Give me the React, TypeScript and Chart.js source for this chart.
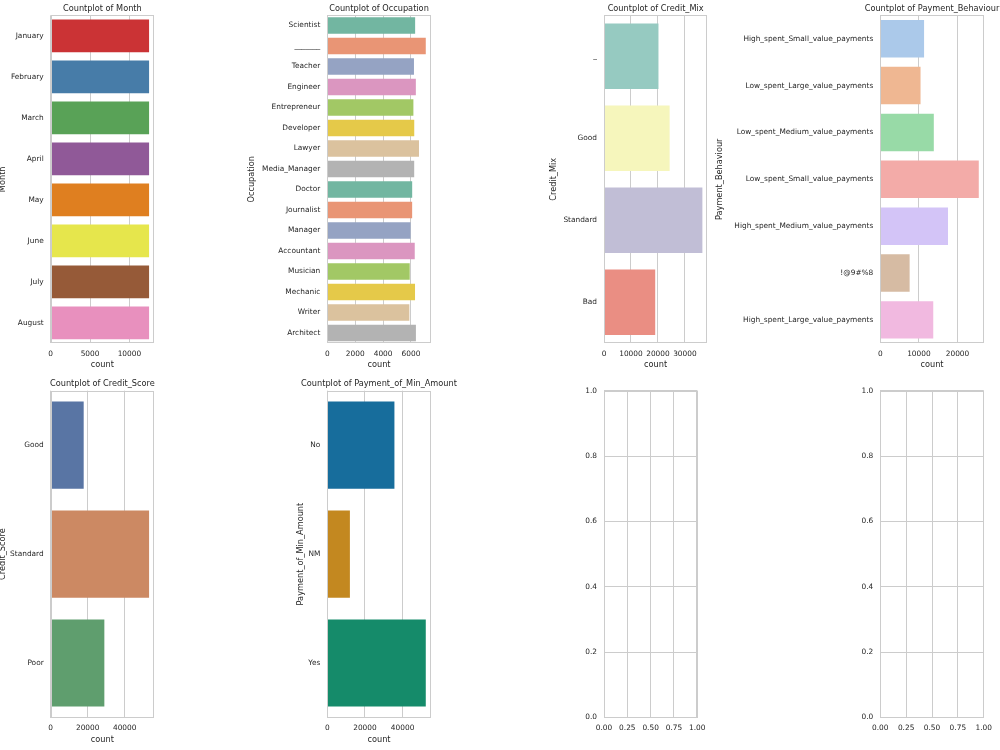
import React, { useEffect, useRef } from "react";
import { Chart, registerables } from "chart.js";

Chart.register(...registerables);

// ---------------- Data ----------------
const monthLabels = ["January", "February", "March", "April", "May", "June", "July", "August"];
const monthCounts = [12500, 12500, 12500, 12500, 12500, 12500, 12500, 12500];

const occupationLabels = [
  "Scientist", "_______", "Teacher", "Engineer", "Entrepreneur", "Developer", "Lawyer",
  "Media_Manager", "Doctor", "Journalist", "Manager", "Accountant", "Musician", "Mechanic",
  "Writer", "Architect",
];
const occupationCounts = [
  6299, 7062, 6215, 6350, 6174, 6235, 6575, 6232, 6087, 6085, 5973, 6271, 5911, 6291, 5885, 6355,
];

const creditMixLabels = ["_", "Good", "Standard", "Bad"];
const creditMixCounts = [20195, 24337, 36479, 18989];

const paymentBehaviourLabels = [
  "High_spent_Small_value_payments",
  "Low_spent_Large_value_payments",
  "Low_spent_Medium_value_payments",
  "Low_spent_Small_value_payments",
  "High_spent_Medium_value_payments",
  "!@9#%8",
  "High_spent_Large_value_payments",
];
const paymentBehaviourCounts = [11340, 10425, 13861, 25513, 17540, 7600, 13721];

const creditScoreLabels = ["Good", "Standard", "Poor"];
const creditScoreCounts = [17828, 53174, 28998];

const minAmountLabels = ["No", "NM", "Yes"];
const minAmountCounts = [35667, 12007, 52326];

const monthTicks = [0, 5000, 10000];
const occupationTicks = [0, 2000, 4000, 6000];
const creditMixTicks = [0, 10000, 20000, 30000];
const paymentBehaviourTicks = [0, 10000, 20000];
const creditScoreTicks = [0, 20000, 40000];
const minAmountTicks = [0, 20000, 40000];
const emptyXTicks = [0, 0.25, 0.5, 0.75, 1.0];
const emptyYTicks = [0, 0.2, 0.4, 0.6, 0.8, 1.0];

// ---------------- Styles ----------------
const FONT = "'DejaVu Sans', sans-serif";
const TEXT = "#262626";
const GRID = "#cccccc";
const TICK_SIZE = 7.4;
const LABEL_SIZE = 8.2;
const LH = LABEL_SIZE * 1.2;

const set1 = ["#e41a1c", "#377eb8", "#4daf4a", "#984ea3", "#ff7f00", "#ffff33", "#a65628", "#f781bf"];
const set2 = ["#66c2a5", "#fc8d62", "#8da0cb", "#e78ac3", "#a6d854", "#ffd92f", "#e5c494", "#b3b3b3"];
const set3 = ["#8dd3c7", "#ffffb3", "#bebada", "#fb8072"];
const pastel = ["#a1c9f4", "#ffb482", "#8de5a1", "#ff9f9b", "#d0bbff", "#debb9b", "#fab0e4"];
const deep = ["#4c72b0", "#dd8452", "#55a868"];
const colorblind = ["#0173b2", "#de8f05", "#029e73"];

function desaturate(hex: string, prop: number): string {
  const r = parseInt(hex.slice(1, 3), 16) / 255;
  const g = parseInt(hex.slice(3, 5), 16) / 255;
  const b = parseInt(hex.slice(5, 7), 16) / 255;
  const max = Math.max(r, g, b);
  const min = Math.min(r, g, b);
  const l = (max + min) / 2;
  let h = 0;
  let s = 0;
  if (max !== min) {
    const d = max - min;
    s = l <= 0.5 ? d / (max + min) : d / (2 - max - min);
    if (max === r) h = ((g - b) / d + (g < b ? 6 : 0)) / 6;
    else if (max === g) h = ((b - r) / d + 2) / 6;
    else h = ((r - g) / d + 4) / 6;
  }
  s *= prop;
  const hue2rgb = (p: number, q: number, t: number) => {
    if (t < 0) t += 1;
    if (t > 1) t -= 1;
    if (t < 1 / 6) return p + (q - p) * 6 * t;
    if (t < 1 / 2) return q;
    if (t < 2 / 3) return p + (q - p) * (2 / 3 - t) * 6;
    return p;
  };
  let rr = l, gg = l, bb = l;
  if (s !== 0) {
    const q = l < 0.5 ? l * (1 + s) : l + s - l * s;
    const p = 2 * l - q;
    rr = hue2rgb(p, q, h + 1 / 3);
    gg = hue2rgb(p, q, h);
    bb = hue2rgb(p, q, h - 1 / 3);
  }
  const to = (v: number) => Math.round(v * 255).toString(16).padStart(2, "0");
  return "#" + to(rr) + to(gg) + to(bb);
}

function paletteFor(base: string[], n: number): string[] {
  const out: string[] = [];
  for (let i = 0; i < n; i++) out.push(desaturate(base[i % base.length], 0.75));
  return out;
}

// ---------------- Layout ----------------
type Box = { left: number; top: number; width: number; height: number };
type Plot = { left: number; right: number; top: number; bottom: number };

type Panel = {
  kind: "bar" | "empty";
  title?: string;
  yTitle?: string;
  labels?: string[];
  values?: number[];
  palette?: string[];
  ticks?: number[];
  canvas: Box;
  plot: Plot;
  titleCY?: number;
  yTitleCX?: number;
  xTitleCY?: number;
};

const ROW1 = { top: 0, height: 372, plotTop: 15.3, plotBottom: 343.3, titleCY: 8.8, xTitleCY: 364.4 };
const ROW2 = { top: 374, height: 376, plotTop: 390.7, plotBottom: 717.5, titleCY: 384, xTitleCY: 740 };
const COLS = [
  { left: 0, width: 200, plotLeft: 50.7, plotRight: 154 },
  { left: 240, width: 230, plotLeft: 327.3, plotRight: 430.7 },
  { left: 520, width: 192, plotLeft: 604, plotRight: 707.3 },
  { left: 712, width: 288, plotLeft: 880.3, plotRight: 983.7 },
];

function mk(row: typeof ROW1, col: typeof COLS[0], extra: Partial<Panel>): Panel {
  return {
    kind: "bar",
    canvas: { left: col.left, top: row.top, width: col.width, height: row.height },
    plot: { left: col.plotLeft, right: col.plotRight, top: row.plotTop, bottom: row.plotBottom },
    titleCY: row.titleCY,
    xTitleCY: row.xTitleCY,
    ...extra,
  } as Panel;
}

const panels: Panel[] = [
  mk(ROW1, COLS[0], {
    title: "Countplot of Month", yTitle: "Month", labels: monthLabels, values: monthCounts,
    palette: paletteFor(set1, monthLabels.length), ticks: monthTicks, yTitleCX: 2.7,
  }),
  mk(ROW1, COLS[1], {
    title: "Countplot of Occupation", yTitle: "Occupation", labels: occupationLabels, values: occupationCounts,
    palette: paletteFor(set2, occupationLabels.length), ticks: occupationTicks, yTitleCX: 251.7,
  }),
  mk(ROW1, COLS[2], {
    title: "Countplot of Credit_Mix", yTitle: "Credit_Mix", labels: creditMixLabels, values: creditMixCounts,
    palette: paletteFor(set3, creditMixLabels.length), ticks: creditMixTicks, yTitleCX: 554,
  }),
  mk(ROW1, COLS[3], {
    title: "Countplot of Payment_Behaviour", yTitle: "Payment_Behaviour", labels: paymentBehaviourLabels,
    values: paymentBehaviourCounts, palette: paletteFor(pastel, paymentBehaviourLabels.length),
    ticks: paymentBehaviourTicks, yTitleCX: 720,
  }),
  mk(ROW2, COLS[0], {
    title: "Countplot of Credit_Score", yTitle: "Credit_Score", labels: creditScoreLabels, values: creditScoreCounts,
    palette: paletteFor(deep, creditScoreLabels.length), ticks: creditScoreTicks, yTitleCX: 2.7,
  }),
  mk(ROW2, COLS[1], {
    title: "Countplot of Payment_of_Min_Amount", yTitle: "Payment_of_Min_Amount", labels: minAmountLabels,
    values: minAmountCounts, palette: paletteFor(colorblind, minAmountLabels.length), ticks: minAmountTicks,
    yTitleCX: 300.7,
  }),
  mk(ROW2, COLS[2], { kind: "empty" }),
  mk(ROW2, COLS[3], { kind: "empty" }),
];

const framePlugin = {
  id: "frame",
  afterLayout(chart: any) {
    // widen the title box symmetrically so the text is never squeezed
    const t = chart.titleBlock;
    if (t) {
      t.left -= 300;
      t.right += 300;
      t.width += 600;
    }
  },
  afterDatasetsDraw(chart: any) {
    const { ctx, chartArea: a } = chart;
    ctx.save();
    ctx.strokeStyle = GRID;
    ctx.lineWidth = 1;
    const l = Math.round(a.left) + 0.5;
    const t = Math.round(a.top) + 0.5;
    const r = Math.round(a.right) - 0.5;
    const b = Math.round(a.bottom) - 0.5;
    ctx.strokeRect(l, t, r - l, b - t);
    ctx.restore();
  },
};

function setTicks(values: number[]) {
  return (scale: any) => {
    scale.ticks = values.map((v) => ({ value: v }));
  };
}

function buildConfig(p: Panel): any {
  const cv = p.canvas;
  const canvasRight = cv.left + cv.width;
  const canvasBottom = cv.top + cv.height;
  const yWidth = p.plot.left - cv.left;
  const xHeight = canvasBottom - p.plot.bottom;
  const tickFont = { family: FONT, size: TICK_SIZE, weight: "normal" };
  const labelFont = { family: FONT, size: LABEL_SIZE, weight: "normal" };

  if (p.kind === "empty") {
    return {
      type: "scatter",
      data: { datasets: [{ data: [] as any[] }] },
      options: {
        responsive: false,
        animation: false,
        devicePixelRatio: 1,
        layout: { padding: { left: 0, right: canvasRight - p.plot.right, top: p.plot.top - cv.top, bottom: 0 } },
        plugins: { legend: { display: false }, title: { display: false }, tooltip: { enabled: false } },
        scales: {
          x: {
            type: "linear", min: 0, max: 1,
            afterBuildTicks: setTicks(emptyXTicks),
            ticks: { font: tickFont, color: TEXT, padding: 6.5, maxRotation: 0, autoSkip: false,
              callback: (v: any) => Number(v).toFixed(2) },
            grid: { color: GRID, drawTicks: false, lineWidth: 1 },
            border: { display: false },
            afterFit: (s: any) => { s.height = xHeight; },
          },
          y: {
            type: "linear", min: 0, max: 1,
            afterBuildTicks: setTicks(emptyYTicks),
            ticks: { font: tickFont, color: TEXT, padding: 7, autoSkip: false,
              callback: (v: any) => Number(v).toFixed(1) },
            grid: { color: GRID, drawTicks: false, lineWidth: 1 },
            border: { display: false },
            afterFit: (s: any) => { s.width = yWidth; },
          },
        },
      },
      plugins: [framePlugin],
    };
  }

  const values = p.values as number[];
  const xMax = Math.max(...values) * 1.05;

  const titleTop = (p.titleCY as number) - cv.top - LH / 2;
  const titleBottom = p.plot.top - cv.top - titleTop - LH;
  const xTitleBottom = canvasBottom - (p.xTitleCY as number) - LH / 2;
  const yTitleTop = (p.yTitleCX as number) - cv.left - LH / 2;

  return {
    type: "bar",
    data: {
      labels: p.labels,
      datasets: [{
        data: values,
        backgroundColor: p.palette,
        borderWidth: 0,
        barPercentage: 0.8,
        categoryPercentage: 1.0,
      }],
    },
    options: {
      indexAxis: "y",
      responsive: false,
      animation: false,
      devicePixelRatio: 1,
      layout: { padding: { left: 0, right: canvasRight - p.plot.right, top: 0, bottom: 0 } },
      plugins: {
        legend: { display: false },
        tooltip: { enabled: false },
        title: {
          display: true, text: p.title, fullSize: false, color: TEXT, font: labelFont,
          padding: { top: titleTop, bottom: titleBottom },
        },
      },
      scales: {
        x: {
          type: "linear", min: 0, max: xMax,
          afterBuildTicks: setTicks(p.ticks as number[]),
          ticks: { font: tickFont, color: TEXT, padding: 6.5, maxRotation: 0, autoSkip: false,
            callback: (v: any) => String(v) },
          grid: { color: GRID, drawTicks: false, lineWidth: 1 },
          border: { display: false },
          title: { display: true, text: "count", font: labelFont, color: TEXT, padding: { top: 0, bottom: xTitleBottom } },
          afterFit: (s: any) => { s.height = xHeight; },
        },
        y: {
          type: "category",
          offset: true,
          ticks: { font: tickFont, color: TEXT, padding: 7, autoSkip: false },
          grid: { display: false, drawTicks: false },
          border: { display: false },
          title: { display: true, text: p.yTitle, font: labelFont, color: TEXT, padding: { top: yTitleTop, bottom: 0 } },
          afterFit: (s: any) => { s.width = yWidth; },
        },
      },
    },
    plugins: [framePlugin],
  };
}

function PanelChart({ panel }: { panel: Panel }) {
  const ref = useRef<HTMLCanvasElement | null>(null);
  useEffect(() => {
    if (!ref.current) return;
    const chart = new Chart(ref.current, buildConfig(panel));
    return () => chart.destroy();
  }, [panel]);
  const c = panel.canvas;
  return (
    <canvas
      ref={ref}
      width={c.width}
      height={c.height}
      style={{ position: "absolute", left: c.left, top: c.top, width: c.width, height: c.height }}
    />
  );
}

export default function App() {
  return (
    <div
      style={{
        position: "absolute",
        left: 0,
        top: 0,
        width: 1000,
        height: 750,
        overflow: "hidden",
        background: "#ffffff",
      }}
    >
      {panels.map((p, i) => (
        <PanelChart key={i} panel={p} />
      ))}
    </div>
  );
}
